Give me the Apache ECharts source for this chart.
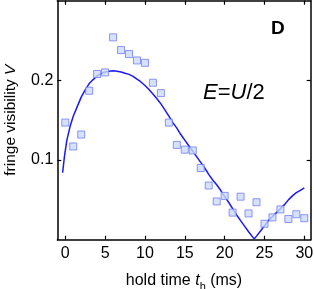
<!DOCTYPE html>
<html><head><meta charset="utf-8">
<script src="https://cdn.jsdelivr.net/npm/echarts@6/dist/echarts.min.js"></script>
<style>html,body{margin:0;padding:0;background:#fff}#c{width:314px;height:289px}</style>
</head><body><div id="c"></div>
<script>
// measured data: hold time (ms) and fringe visibility
const holdTime = [0,1,2,3,4,5,6,7,8,9,10,11,12,13,14,15,16,17,18,19,20,21,22,23,24,25,26,27,28,29,30];
const visibility = [0.147,0.117,0.132,0.187,0.208,0.210,0.254,0.238,0.233,0.225,0.222,0.197,0.184,0.147,0.119,0.113,0.112,0.090,0.068,0.048,0.055,0.034,0.054,0.033,0.047,0.020,0.028,0.038,0.026,0.032,0.027];
// theory curve
const curveX = [-0.33,-0.1,0.2,0.6,1.0,1.5,2.0,2.5,3.0,3.5,4.0,4.5,5.0,5.5,6.0,6.5,7.0,7.5,8.0,8.5,9.0,9.5,10.0,10.5,11.0,11.5,12.0,12.5,13.0,13.5,14.0,14.5,15.0,15.5,16.0,16.5,17.0,17.5,18.0,18.5,19.0,19.5,20.0,20.5,21.0,21.5,22.0,22.5,23.0,23.7,24.0,24.5,25.0,25.5,26.0,26.5,27.0,27.5,28.0,28.5,29.0,29.5,30.0];
const curveY = [0.084,0.105,0.125,0.142,0.155,0.167,0.179,0.188,0.196,0.201,0.2055,0.2085,0.2105,0.2115,0.212,0.2115,0.2105,0.209,0.2075,0.205,0.2015,0.198,0.1935,0.1885,0.183,0.177,0.1705,0.163,0.155,0.147,0.140,0.132,0.125,0.118,0.111,0.104,0.097,0.090,0.082,0.075,0.069,0.062,0.054,0.047,0.039,0.031,0.024,0.017,0.010,0.001,0.0045,0.011,0.0175,0.024,0.029,0.034,0.039,0.044,0.050,0.055,0.059,0.062,0.065];
const xTicks = [0,5,10,15,20,25,30];
const yTicks = [0.1,0.2];

const font = 'Liberation Sans, Arial, sans-serif';
const chart = echarts.init(document.getElementById('c'), null, {renderer:'canvas'});
const axisLineStyle = {show:true, onZero:false, lineStyle:{color:'#000', width:1.5}};
const tickStyle = {show:true, inside:true, length:4, lineStyle:{color:'#000', width:1.2}};
chart.setOption({
  animation:false,
  grid:{left:57.3, right:3.3, top:0.7, bottom:49.3, containLabel:false, outerBoundsMode:'none'},
  xAxis:[
    {type:'value', min:-1, max:30.8, position:'bottom',
     axisLine:axisLineStyle, splitLine:{show:false},
     axisTick:Object.assign({customValues:xTicks}, tickStyle),
     axisLabel:{customValues:xTicks, margin:6, color:'#000', fontSize:16, fontFamily:font},
     name:'{n|hold time }{i|t}{s|h}{n| (ms)}', nameLocation:'middle', nameGap:33,
     nameTextStyle:{rich:{
       n:{fontSize:16, fontFamily:font, color:'#000'},
       i:{fontSize:16, fontFamily:font, color:'#000', fontStyle:'italic'},
       s:{fontSize:11, fontFamily:font, color:'#000', verticalAlign:'bottom', padding:[0,0,-4,0]}
     }}},
    {type:'value', min:-1, max:30.8, position:'top',
     axisLine:axisLineStyle, splitLine:{show:false},
     axisTick:Object.assign({customValues:xTicks}, tickStyle),
     axisLabel:{show:false}}
  ],
  yAxis:[
    {type:'value', min:0, max:0.3, position:'left',
     axisLine:axisLineStyle, splitLine:{show:false},
     axisTick:Object.assign({customValues:yTicks}, tickStyle),
     axisLabel:{customValues:yTicks, margin:4, color:'#000', fontSize:16, fontFamily:font,
       formatter:v=>v.toFixed(1)},
     name:'{n|fringe visibility }{i|V}', nameLocation:'middle', nameGap:39, nameRotate:90,
     nameTextStyle:{rich:{
       n:{fontSize:15.5, fontFamily:font, color:'#000'},
       i:{fontSize:15.5, fontFamily:font, color:'#000', fontStyle:'italic'}
     }}},
    {type:'value', min:0, max:0.3, position:'right',
     axisLine:axisLineStyle, splitLine:{show:false},
     axisTick:Object.assign({customValues:yTicks}, tickStyle),
     axisLabel:{show:false}}
  ],
  graphic:[
    {type:'text', left:271, top:19, style:{text:'D', font:'bold 19px '+font, fill:'#000'}},
    {type:'text', left:203, top:82, style:{
      text:'{i|E}{n|=}{i|U}{n|/2}',
      rich:{
        i:{fontSize:22, fontFamily:font, fontStyle:'italic', fill:'#000'},
        n:{fontSize:22, fontFamily:font, fill:'#000'}
      }}}
  ],
  series:[
    {type:'line', data:curveX.map((x,i)=>[x,curveY[i]]), showSymbol:false, smooth:false,
     lineStyle:{color:'#1a1aee', width:1.5}, z:2},
    {type:'scatter', data:holdTime.map((x,i)=>[x,visibility[i]]), symbol:'rect', symbolSize:7,
     itemStyle:{color:'#cdd9fb', borderColor:'#6f80f2', borderWidth:1}, z:3}
  ]
});
</script></body></html>
